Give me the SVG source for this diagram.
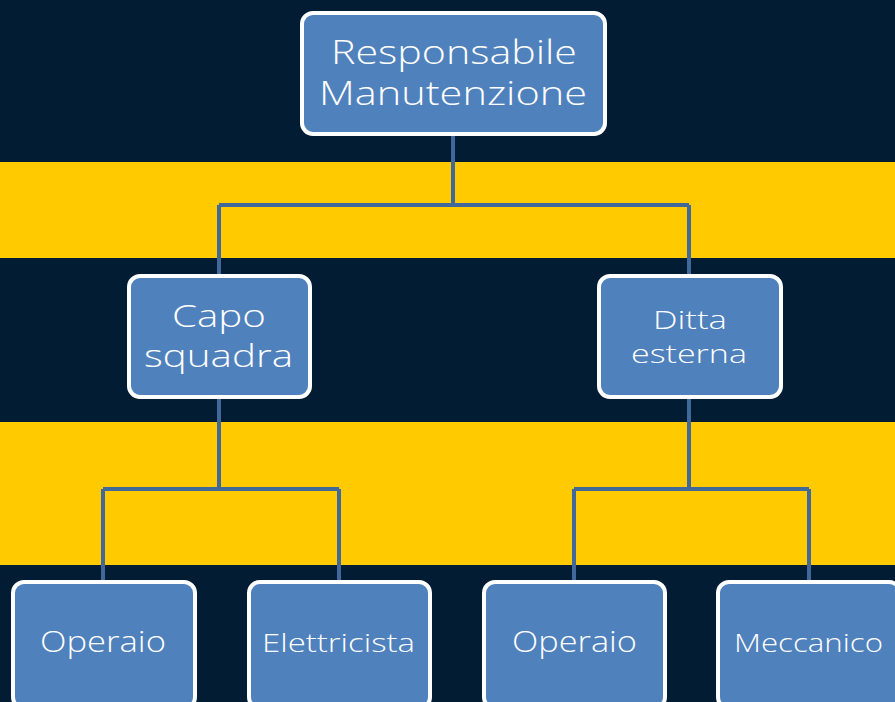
<svg xmlns="http://www.w3.org/2000/svg" width="895" height="702" viewBox="0 0 895 702">
<style>
.node rect{fill:#4F81BD;stroke:#FFFFFF;stroke-width:4}
.node text{fill:#FFFFFF;font-family:"Open Sans","Liberation Sans",sans-serif;font-weight:300;text-anchor:middle}
.conn{fill:none;stroke:#41689A;stroke-width:4}
</style>
<rect x="0" y="0" width="895" height="702" fill="#021D33"/>
<rect x="0" y="162" width="895" height="96" fill="#FFCA00"/>
<rect x="0" y="422" width="895" height="143" fill="#FFCA00"/>
<g id="connectors">
<path class="conn" d="M453,135 V205 M219,205 H689 M219,205 V275 M689,205 V275"/>
<path class="conn" d="M219,398 V489 M103,489 H339 M103,489 V581 M339,489 V581"/>
<path class="conn" d="M689,398 V489 M574,489 H809 M574,489 V581 M809,489 V581"/>
</g>
<g id="n-responsabile" class="node">
<rect x="302" y="13" width="303" height="121" rx="11"/>
<text x="454" y="64" font-size="33" textLength="246" lengthAdjust="spacingAndGlyphs">Responsabile</text>
<text x="453" y="105" font-size="33" textLength="268" lengthAdjust="spacingAndGlyphs">Manutenzione</text>
</g>
<g id="n-capo" class="node">
<rect x="129" y="276" width="181" height="121" rx="11"/>
<text x="219" y="327" font-size="31" textLength="94" lengthAdjust="spacingAndGlyphs">Capo</text>
<text x="218.5" y="367" font-size="31" textLength="149" lengthAdjust="spacingAndGlyphs">squadra</text>
</g>
<g id="n-ditta" class="node">
<rect x="599" y="276" width="182" height="121" rx="11"/>
<text x="690" y="329" font-size="26" textLength="74" lengthAdjust="spacingAndGlyphs">Ditta</text>
<text x="689" y="363" font-size="26" textLength="116" lengthAdjust="spacingAndGlyphs">esterna</text>
</g>
<g id="n-operaio1" class="node">
<rect x="13" y="582" width="182" height="126" rx="11"/>
<text x="103" y="652" font-size="30" textLength="126" lengthAdjust="spacingAndGlyphs">Operaio</text>
</g>
<g id="n-elettricista" class="node">
<rect x="249" y="582" width="181" height="126" rx="11"/>
<text x="338.5" y="652" font-size="26" textLength="153" lengthAdjust="spacingAndGlyphs">Elettricista</text>
</g>
<g id="n-operaio2" class="node">
<rect x="484" y="582" width="181" height="126" rx="11"/>
<text x="574.5" y="652" font-size="30" textLength="125" lengthAdjust="spacingAndGlyphs">Operaio</text>
</g>
<g id="n-meccanico" class="node">
<rect x="718" y="582" width="182" height="126" rx="11"/>
<text x="808.5" y="652" font-size="26" textLength="149" lengthAdjust="spacingAndGlyphs">Meccanico</text>
</g>
</svg>
